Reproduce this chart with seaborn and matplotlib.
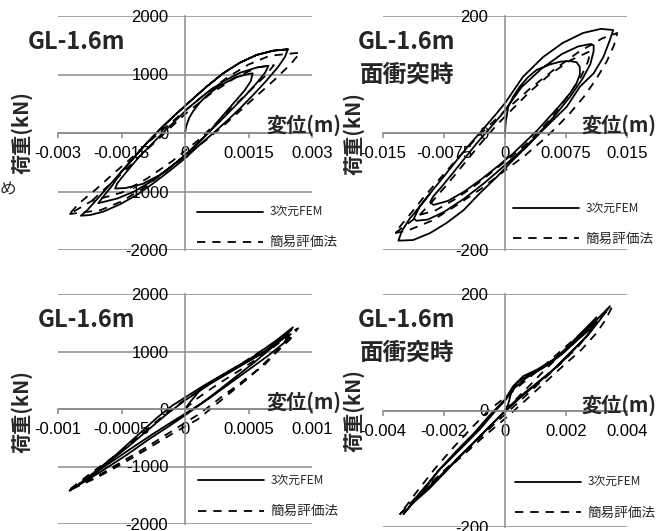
import numpy as np
import pandas as pd
import matplotlib.pyplot as plt
import seaborn as sns

# ---- data: load-displacement loops ----
# panel 1: GL-1.6m
p1_fem_x = [0.0, 0.00003, 0.0001, 0.0002, 0.00035, 0.0005, 0.0008, 0.0012, 0.0015, 0.0016,
            0.00155, 0.0014, 0.0011, 0.0008, 0.00055, 0.0002, -0.0002, -0.0006, -0.001, -0.0014, -0.00165,
            -0.0016, -0.0014, -0.0011, -0.0008, -0.0005, -0.0002, 0.0001, 0.0005, 0.0009, 0.0013, 0.0017, 0.00197,
            0.0019, 0.0017, 0.0014, 0.0011, 0.0008, 0.0006, 0.0003, 0.0, -0.0004, -0.0008, -0.0012, -0.0016, -0.00205,
            -0.0019, -0.0017, -0.00154, -0.00122, -0.00091, -0.00059, -0.00028, 0.0, 0.0002, 0.00051, 0.0009, 0.0013,
            0.00169, 0.00209, 0.00243,
            0.00236, 0.0022, 0.00193, 0.00161, 0.0013, 0.00098, 0.00067, 0.00035, 0.0, -0.00035, -0.00075, -0.00114,
            -0.00154, -0.00193, -0.00224, -0.00246,
            -0.00232, -0.00213, -0.00185, -0.00154, -0.00122, -0.00091, -0.00059, -0.00028, 0.0, 0.0002, 0.00051,
            0.0009, 0.0013, 0.00169, 0.00209, 0.00243]
p1_fem_y = [0, 120, 260, 380, 520, 630, 800, 950, 1010, 1020,
            880, 720, 470, 220, 0, -260, -500, -720, -870, -940, -950,
            -860, -680, -420, -200, 20, 230, 440, 680, 880, 1030, 1120, 1150,
            1040, 860, 620, 400, 180, 40, -170, -380, -620, -830, -1000, -1120, -1200,
            -1060, -880, -700, -433, -177, 63, 279, 462, 593, 792, 1020, 1203,
            1334, 1408, 1431,
            1300, 1130, 900, 650, 420, 200, 0, -200, -433, -640, -860, -1060,
            -1220, -1345, -1402, -1414,
            -1328, -1174, -946, -690, -433, -177, 63, 279, 462, 593, 792,
            1020, 1203, 1334, 1408, 1431]
p1_simple_x = [-0.0022, -0.0019, -0.0015, -0.0011, -0.0007, -0.0003, 0.0, 0.0006, 0.0012, 0.0017, 0.0021,
               0.0019, 0.0015, 0.0011, 0.0007, 0.0003, -0.0003, -0.0009, -0.0015, -0.0022,
               -0.00273, -0.0025, -0.0021, -0.0017, -0.0013, -0.0009, -0.0005, 0.0, 0.0005, 0.001, 0.0015,
               0.002, 0.00272,
               0.0025, 0.0021, 0.0017, 0.0013, 0.0009, 0.0005, 0.0, -0.0005, -0.001, -0.0015, -0.002, -0.00273]
p1_simple_y = [-1160, -960, -700, -420, -150, 120, 320, 670, 950, 1120, 1160,
               980, 700, 420, 140, -130, -480, -780, -1020, -1160,
               -1385, -1200, -960, -700, -450, -180, 70, 380, 680, 950, 1170,
               1320, 1374,
               1180, 900, 640, 380, 120, -120, -400, -680, -950, -1170, -1320, -1385]

# panel 2: GL-1.6m 面衝突時
p2_fem_x = [0.0, 0.0001, 0.0004, 0.001, 0.0018, 0.0028, 0.0039, 0.0055, 0.0068, 0.008, 0.0088, 0.0092,
            0.0092, 0.0088, 0.008, 0.0068, 0.0055, 0.004, 0.0025, 0.001, -0.001, -0.003, -0.005, -0.007, -0.0088,
            -0.0092, -0.0088, -0.0078, -0.0065, -0.005, -0.0035, -0.002, -0.0005, 0.001, 0.002, 0.0045, 0.007,
            0.009, 0.0105, 0.0109,
            0.0109, 0.0105, 0.0095, 0.008, 0.0065, 0.005, 0.0035, 0.002, 0.0, -0.0025, -0.005, -0.0075, -0.0095,
            -0.0109,
            -0.0112, -0.0105, -0.0092, -0.0075, -0.0059, -0.0045, -0.0031, -0.001, 0.0, 0.0022, 0.0047, 0.0071,
            0.0096, 0.0118, 0.0133,
            0.0129, 0.0121, 0.0109, 0.0092, 0.0076, 0.0059, 0.0043, 0.0027, 0.001, -0.001, -0.0031, -0.0051,
            -0.0072, -0.0092, -0.0113, -0.0131,
            -0.0127, -0.0118, -0.0105, -0.0092]
p2_fem_y = [0, 20, 45, 62, 79, 95, 108, 117, 122, 123, 121, 113,
            100, 85, 68, 48, 28, 5, -15, -35, -58, -80, -100, -116, -123,
            -118, -108, -92, -70, -44, -18, 6, 30, 58, 78, 110, 135,
            148, 152, 150,
            140, 118, 92, 62, 36, 12, -10, -30, -55, -85, -112, -135, -148,
            -150,
            -146, -126, -103, -74, -46, -22, 0, 34, 51, 96, 130, 154,
            171, 178, 176,
            159, 130, 102, 79, 45, 22, 0, -23, -46, -75, -103, -132,
            -154, -171, -183, -184,
            -168, -148, -126, -103]
p2_simple_x = [-0.0105, -0.009, -0.007, -0.005, -0.003, -0.001, 0.001, 0.003, 0.0055, 0.008, 0.0105,
               0.0102, 0.0093, 0.008, 0.0065, 0.005, 0.003, 0.001, -0.001, -0.0035, -0.006, -0.0085, -0.0105,
               -0.0135, -0.0128, -0.0115, -0.01, -0.008, -0.006, -0.004, -0.002, 0.0, 0.003, 0.006, 0.009, 0.012,
               0.0138,
               0.0134, 0.0125, 0.0112, 0.0097, 0.008, 0.0062, 0.0045, 0.0025, 0.0, -0.003, -0.006, -0.009, -0.012,
               -0.0135]
p2_simple_y = [-140, -118, -86, -52, -18, 14, 42, 70, 100, 124, 140,
               122, 95, 68, 40, 15, -14, -38, -60, -88, -112, -132, -140,
               -171, -158, -136, -110, -78, -46, -16, 12, 38, 75, 108, 138, 162,
               171,
               150, 122, 92, 62, 34, 8, -14, -38, -64, -96, -124, -150, -167,
               -171]

# panel 3: GL-1.6m
p3_fem_x = [0.0, 0.00004, 0.00012, 0.00025, 0.00045, 0.00065, 0.00082,
            0.00078, 0.00065, 0.0005, 0.00035, 0.0002, 0.00006, -0.0001, -0.00025, -0.00042, -0.0006, -0.00075, -0.00086,
            -0.00072, -0.00054, -0.00038, -0.00022, -0.0001, 0.0, 0.00015, 0.00033, 0.00051, 0.0007, 0.00085,
            0.0007, 0.00055, 0.0004, 0.00025, 0.00012, 0.0, -0.00012, -0.00028, -0.00046, -0.00067, -0.00091,
            -0.00075, -0.0006, -0.00045, -0.0003, -0.00015, 0.0, 0.0002, 0.0004, 0.0006, 0.00075, 0.00084]
p3_fem_y = [0, 120, 330, 530, 780, 1020, 1300,
            1150, 920, 680, 440, 200, 0, -220, -430, -680, -950, -1180, -1350,
            -1110, -790, -470, -150, 60, 200, 410, 640, 870, 1160, 1421,
            1100, 820, 560, 300, 80, -110, -290, -520, -800, -1100, -1421,
            -1180, -920, -660, -380, -100, 150, 440, 700, 960, 1200, 1380]
p3_simple_x = [0.0, 0.0001, 0.00025, 0.00045, 0.00065, 0.00085,
               0.0008, 0.0007, 0.0006, 0.0005, 0.0004, 0.0003, 0.0002, 0.0001, -0.0001, -0.0003, -0.0005, -0.0007,
               -0.00092, -0.00075, -0.00058, -0.00042, -0.00028, -0.00014, 0.0, 0.00018, 0.00038, 0.00058, 0.00075,
               0.00089,
               0.00083, 0.00072, 0.00062, 0.00051, 0.00041, 0.0003, 0.0002, 0.00009, -0.0001, -0.0003, -0.0005,
               -0.0007, -0.00092]
p3_simple_y = [0, 190, 420, 700, 1000, 1330,
               1180, 960, 740, 540, 360, 180, 0, -180, -430, -700, -960, -1200,
               -1421, -1130, -860, -580, -320, -60, 160, 420, 700, 980, 1230,
               1404,
               1218, 986, 754, 580, 406, 232, 58, -116, -380, -660, -920,
               -1180, -1421]

# panel 4: GL-1.6m 面衝突時
p4_fem_x = [0.0, 0.0001, 0.0002, 0.0004, 0.0007, 0.001, 0.0014, 0.0019, 0.0024, 0.0028, 0.003,
            0.0028, 0.0024, 0.002, 0.0015, 0.001, 0.0005, 0.0, -0.0005, -0.001, -0.0015, -0.002, -0.0025, -0.003,
            -0.0027, -0.0022, -0.0016, -0.001, -0.0005, -0.0002, 0.0, 0.00027, 0.0006, 0.00104, 0.00158, 0.00224,
            0.0029, 0.00344,
            0.00312, 0.00268, 0.00213, 0.00158, 0.00104, 0.00049, 0.00005, -0.00038, -0.00093, -0.00158, -0.00224,
            -0.0029, -0.00333,
            -0.00279, -0.00213, -0.00148, -0.00082, -0.00027, 0.0, 0.0003, 0.0007, 0.0012, 0.0018, 0.0024, 0.003]
p4_fem_y = [0, 10, 30, 48, 58, 66, 78, 98, 122, 140, 152,
            135, 112, 90, 66, 44, 22, -2, -27, -54, -80, -108, -135, -158,
            -140, -104, -70, -38, -8, 8, 19, 42, 59, 70, 87, 116,
            150, 179,
            156, 127, 99, 70, 47, 24, 2, -21, -50, -84, -118,
            -152, -178,
            -141, -101, -67, -32, 2, 17, 38, 56, 72, 96, 128, 160]
p4_simple_x = [0.0, 0.0006, 0.0012, 0.0018, 0.0024, 0.003,
               0.0028, 0.0024, 0.0019, 0.0014, 0.0009, 0.0004, -0.0002, -0.0009, -0.0016, -0.0023, -0.0029,
               -0.00344, -0.0029, -0.0023, -0.0017, -0.0011, -0.0005, 0.0, 0.0006, 0.0013, 0.002, 0.0027, 0.0035,
               0.0033, 0.003, 0.0025, 0.002, 0.0016, 0.0011, 0.0006, 0.0, -0.0007, -0.0014, -0.0021, -0.0028,
               -0.00344]
p4_simple_y = [0, 32, 64, 95, 126, 155,
               136, 110, 84, 60, 36, 12, -16, -50, -84, -118, -148,
               -178, -140, -100, -64, -30, 2, 22, 48, 78, 110, 142, 177,
               156, 133, 104, 81, 62, 38, 14, -14, -45, -78, -110, -144,
               -178]

# axis ticks
p1_xticks = [-0.003, -0.0015, 0, 0.0015, 0.003]
p1_xlabels = ['-0.003', '-0.0015', '0', '0.0015', '0.003']
p2_xticks = [-0.015, -0.0075, 0, 0.0075, 0.015]
p2_xlabels = ['-0.015', '-0.0075', '0', '0.0075', '0.015']
p3_xticks = [-0.001, -0.0005, 0, 0.0005, 0.001]
p3_xlabels = ['-0.001', '-0.0005', '0', '0.0005', '0.001']
p4_xticks = [-0.004, -0.002, 0, 0.002, 0.004]
p4_xlabels = ['-0.004', '-0.002', '0', '0.002', '0.004']
big_yticks = [-2000, -1000, 0, 1000, 2000]
small_yticks = [-200, 0, 200]

titles = [['GL-1.6m'], ['GL-1.6m', '面衝突時'], ['GL-1.6m'], ['GL-1.6m', '面衝突時']]
legend_labels = ['3次元FEM', '簡易評価法']

sns.set_theme(style="white")
plt.rcParams['font.family'] = ['Liberation Sans', 'Noto Sans CJK JP']
plt.rcParams['lines.scale_dashes'] = False
JP = ['Noto Sans CJK JP', 'Liberation Sans']
GRID = '#8a8a8a'

fig = plt.figure(figsize=(6.67, 5.31), dpi=100, facecolor='white')

# axes rectangles in figure fractions (from pixel layout of the original)
rects = [
    [58 / 667, 1 - 250 / 531, 254 / 667, 234 / 531],
    [383 / 667, 1 - 250 / 531, 244 / 667, 234 / 531],
    [58 / 667, 1 - 524 / 531, 254 / 667, 230 / 531],
    [383 / 667, 1 - 527 / 531, 244 / 667, 233 / 531],
]
panels = [
    (p1_fem_x, p1_fem_y, p1_simple_x, p1_simple_y, p1_xticks, p1_xlabels, big_yticks),
    (p2_fem_x, p2_fem_y, p2_simple_x, p2_simple_y, p2_xticks, p2_xlabels, small_yticks),
    (p3_fem_x, p3_fem_y, p3_simple_x, p3_simple_y, p3_xticks, p3_xlabels, big_yticks),
    (p4_fem_x, p4_fem_y, p4_simple_x, p4_simple_y, p4_xticks, p4_xlabels, small_yticks),
]
# text placement in axes coords: title x, title y (first line), ylabel x, ylabel y, xlabel x, xlabel y, legend x, legend y
places = [
    (-0.12, 0.889, -0.142, 0.50, 0.969, 0.534, 0.547, 0.096),
    (0.098, 0.889, -0.119, 0.496, 0.967, 0.534, 0.533, 0.111),
    (-0.08, 0.887, -0.142, 0.487, 0.969, 0.530, 0.551, 0.120),
    (0.098, 0.888, -0.119, 0.498, 0.967, 0.524, 0.541, 0.125),
]

for i, (rect, pan, pl) in enumerate(zip(rects, panels, places)):
    fx, fy, sx, sy, xt, xl, yt = pan
    ax = fig.add_axes(rect)
    ax.set_facecolor('none')
    sns.lineplot(x=fx, y=fy, sort=False, estimator=None, color='black', lw=1.3, ax=ax,
                 label=legend_labels[0])
    sns.lineplot(x=sx, y=sy, sort=False, estimator=None, color='black', lw=1.3, ax=ax,
                 linestyle=(0, (6, 5)), label=legend_labels[1])
    ax.set_xlim(xt[0], xt[-1])
    ax.set_ylim(yt[0], yt[-1])
    ax.set_xticks(xt, xl)
    ax.set_yticks(yt, [str(v) for v in yt])
    ax.set_xlabel('')
    ax.set_ylabel('')
    for s in ['top', 'right']:
        ax.spines[s].set_visible(False)
    for s in ['left', 'bottom']:
        ax.spines[s].set_position('zero')
        ax.spines[s].set_color(GRID)
        ax.spines[s].set_linewidth(1.1)
    ax.set_axisbelow(True)
    ax.yaxis.grid(True, color=GRID, lw=1.1)
    ax.xaxis.grid(False)
    ax.tick_params(axis='x', direction='out', length=3.6, width=1.1, color=GRID, pad=6,
                   labelsize=12, labelcolor='black', bottom=True)
    ax.tick_params(axis='y', length=0, pad=12, labelsize=12, labelcolor='black', left=True)

    tx, ty, ylx, yly, xlx, xly, lgx, lgy = pl
    tlines = titles[i]
    ha = 'left' if len(tlines) == 1 else 'center'
    for k, t in enumerate(tlines):
        ax.text(tx, ty - k * 0.141, t, transform=ax.transAxes, ha=ha, va='center',
                fontsize=17, fontweight='bold', family=JP)
    ax.text(ylx, yly, '荷重(kN)', transform=ax.transAxes, ha='center', va='center',
            rotation=90, fontsize=14.5, fontweight='bold', family=JP)
    ax.text(xlx, xly, '変位(m)', transform=ax.transAxes, ha='center', va='center',
            fontsize=14.5, fontweight='bold', family=JP)

    leg = ax.legend(loc='center left', bbox_to_anchor=(lgx, lgy), frameon=False,
                    handlelength=5.3, handletextpad=0.5, labelspacing=1.3,
                    borderpad=0, borderaxespad=0, prop={'family': JP, 'size': 9})
    texts = leg.get_texts()
    texts[0].set_fontsize(8.5)
    texts[1].set_fontsize(9.8)

fig.text(8 / 667, 1 - 190 / 531, 'め', ha='center', va='center', fontsize=12, family=JP)

plt.savefig('out.png', dpi=100, facecolor='white')
